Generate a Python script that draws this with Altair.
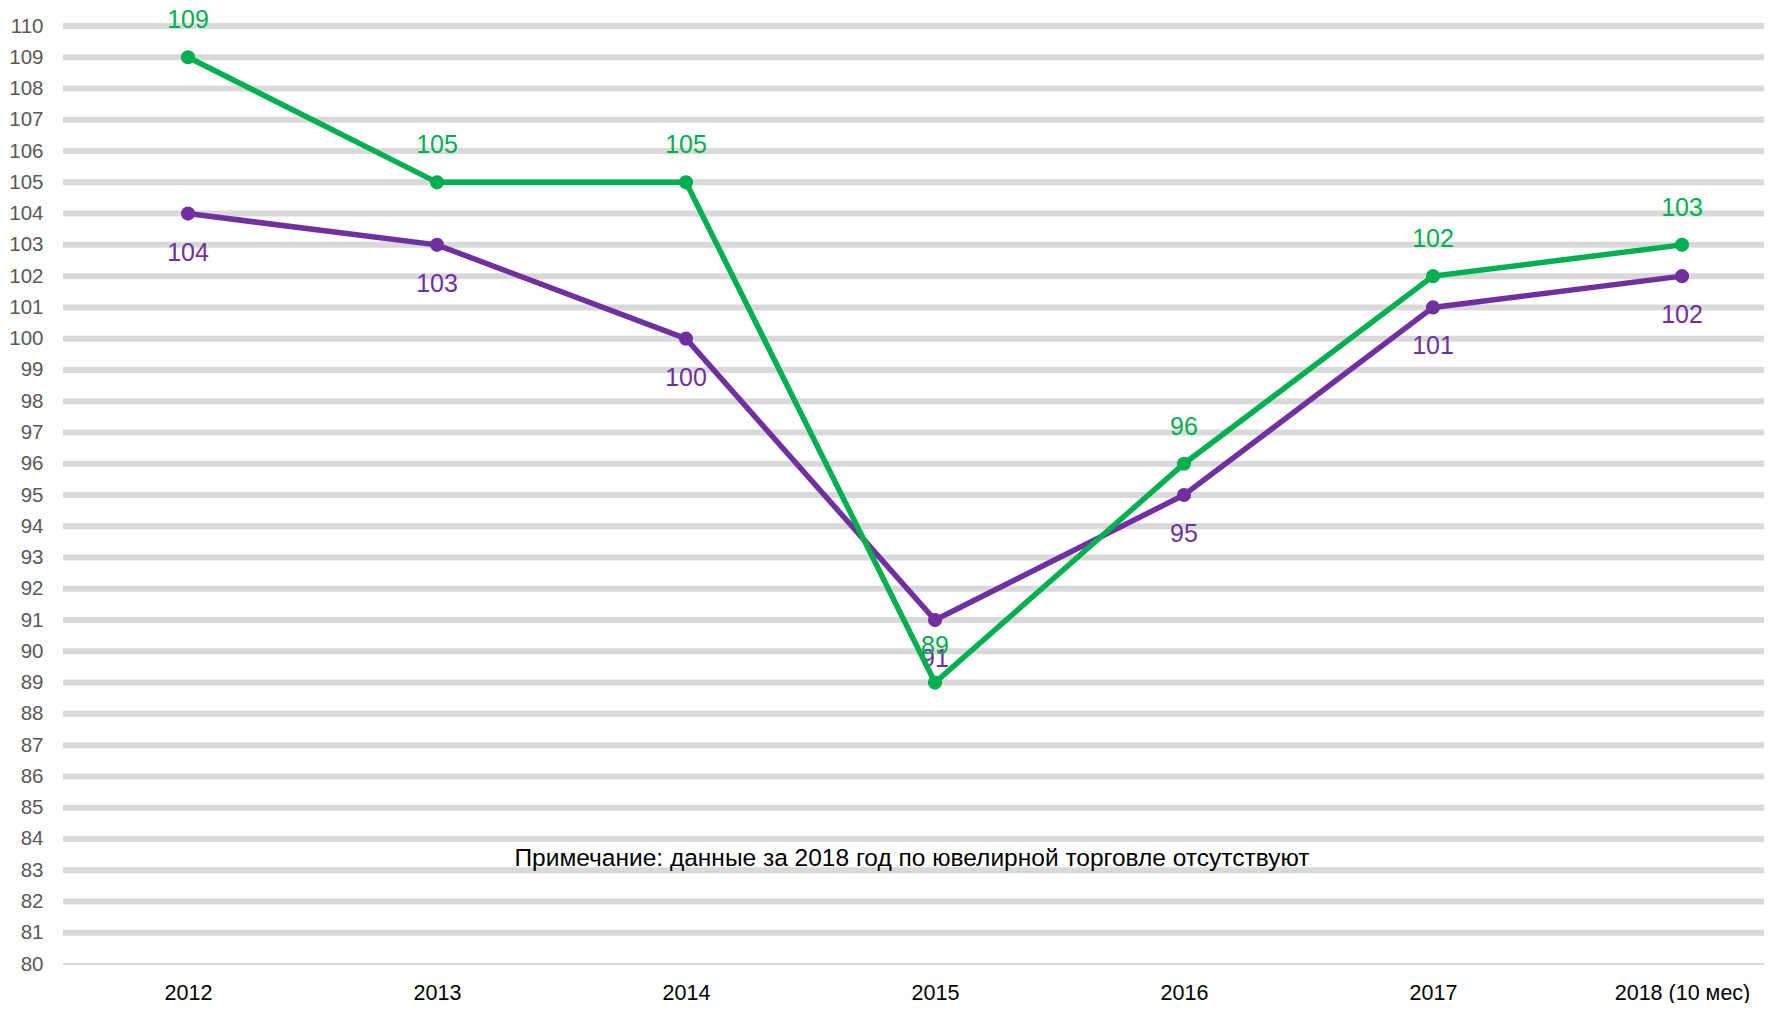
import altair as alt
import pandas as pd

years = ["2012", "2013", "2014", "2015", "2016", "2017", "2018 (10 мес)"]
green_vals = [109, 105, 105, 89, 96, 102, 103]
purple_vals = [104, 103, 100, 91, 95, 101, 102]
green_name = "Ряд 1"
purple_name = "Ряд 2"
note_text = "Примечание: данные за 2018 год по ювелирной торговле отсутствуют"
y_ticks = list(range(80, 111))

GREEN = "#00b050"
PURPLE = "#7030a0"
FONT = "Liberation Sans"
W, H = 1701, 938

df = pd.DataFrame(
    {"year": years * 2,
     "value": green_vals + purple_vals,
     "series": [green_name] * len(years) + [purple_name] * len(years)}
)

x_enc = alt.X(
    "year:N", sort=years,
    scale=alt.Scale(range=[125, 1619], padding=0),
    axis=alt.Axis(title=None, labelAngle=0, ticks=False, domain=False, grid=False,
                  labelFontSize=21.5, labelColor="#000000", labelFont=FONT, labelPadding=18),
)
y_scale = alt.Scale(domain=[80, 110], nice=False, zero=False)
y_enc = alt.Y(
    "value:Q", scale=y_scale,
    axis=alt.Axis(title=None, values=y_ticks, ticks=False, domain=False, grid=False,
                  labelFontSize=20.5, labelColor="#595959", labelFont=FONT, labelPadding=20),
)

grid_df = pd.DataFrame({"value": y_ticks})
grid = alt.Chart(grid_df).mark_rule(color="#d9d9d9").encode(
    y=y_enc,
    x=alt.value(0), x2=alt.value(W),
    strokeWidth=alt.condition(alt.datum.value == 80, alt.value(2), alt.value(6)),
)

base = alt.Chart(df)


def series_layers(name, color, dy):
    src = base.transform_filter(alt.datum.series == name)
    line = src.mark_line(color=color, strokeWidth=5.5).encode(x=x_enc, y=y_enc)
    pts = src.mark_circle(color=color, size=200, opacity=1).encode(x=x_enc, y=y_enc)
    txt = src.mark_text(color=color, fontSize=25, font=FONT, dy=dy, baseline="middle").encode(
        x=x_enc, y=y_enc, text="value:Q")
    return [line, pts, txt]


note_df = pd.DataFrame({"year": ["2015"], "value": [83.35], "label": [note_text]})
note = alt.Chart(note_df).mark_text(
    fontSize=24.5, font=FONT, color="#000000", dx=-23, baseline="middle"
).encode(x=x_enc, y=y_enc, text="label:N")

chart = alt.layer(
    grid,
    *series_layers(purple_name, PURPLE, 39),
    *series_layers(green_name, GREEN, -37),
    note,
).properties(
    width=W, height=H,
    autosize=alt.AutoSizeParams(type="none"),
    padding={"left": 55, "top": 18, "right": 0, "bottom": 39},
).configure_view(stroke=None)

chart.save("out.html", embed_options={"renderer": "svg", "actions": False})
